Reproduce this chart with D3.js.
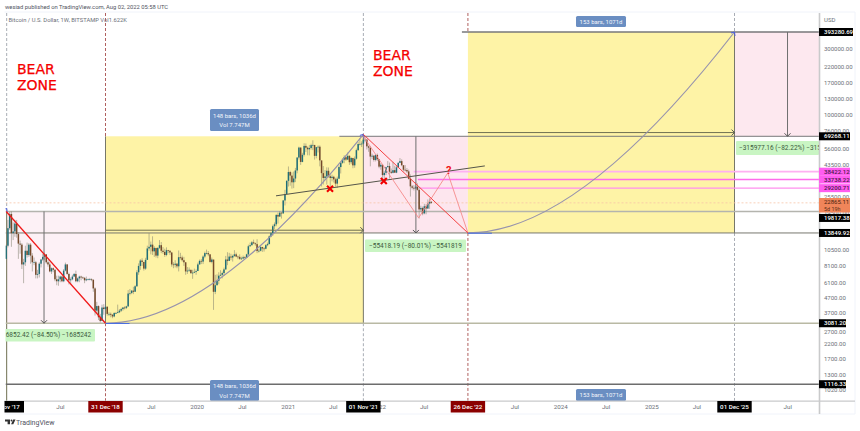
<!DOCTYPE html>
<html>
<head>
<meta charset="utf-8">
<script src="https://cdn.jsdelivr.net/npm/d3@7"></script>
<style>
  html, body { margin: 0; padding: 0; background: #fff; }
  svg { display: block; }
  text { font-family: Roboto, "Noto Sans", sans-serif; }
</style>
</head>
<body>
<svg id="chart" width="860" height="431"></svg>
<script>
// Weekly BTC/USD candles, the first one opening the week of 27 Nov 2017.
const firstWeek = "2017-11-27";
const weekCloses = [
  11200,15000,19000,13800,14200,16200,13600,11600,11400,8200,
  8500,10300,9600,11400,9500,8500,8500,6900,7000,8300,
  8900,9300,9700,8500,8200,7300,7700,7500,6400,6200,
  6400,6700,6200,7400,8200,7000,6300,6400,6700,7000,
  6200,6500,6700,6600,6550,6300,6400,6400,6400,6350,
  5500,3800,4100,3400,3200,4000,3900,4050,3600,3600,
  3550,3450,3650,3650,3700,3800,3900,4000,3980,4080,
  5050,5100,5300,5200,5700,7200,8000,8750,8550,7650,
  8850,10700,11000,11400,10200,10800,9500,10800,11300,10300,
  10100,9600,10400,10300,10000,8200,8150,8300,7950,9250,
  9200,8800,8500,7300,7400,7500,7100,7150,7250,7350,
  8200,8700,8600,9350,9900,9900,9700,8550,8900,5200,
  5800,6250,6800,6900,7100,7550,8900,8700,9350,9200,
  9450,9700,9350,9300,9000,9050,9250,9180,9700,11100,
  11300,11850,11650,11500,10250,10300,10950,10700,10650,11300,
  11500,13100,13800,15500,16000,18700,18200,19400,19200,23800,
  26500,33000,38200,36000,32200,34300,39200,48600,57400,45200,
  50900,59000,57300,55800,57000,59800,60000,50000,57800,58200,
  46400,37500,34600,35500,39000,35600,34600,35300,33800,31500,
  34200,41500,44500,46900,48900,47000,50000,45000,48300,42700,
  47700,55000,60900,61000,61300,65500,65500,58600,57300,49400,
  50100,46700,50800,47300,41800,43100,36300,37700,41400,42200,
  38400,37700,39400,37800,41300,44500,45800,42800,39700,39500,
  38600,34100,30100,29400,29000,29900,28400,20500,21000,19200,
  21600,20800,22600,23300,22865.11
];
const weekHighs = [
  11400,17200,19666,19817,16500,17200,17200,14000,12200,11700,
  9000,11200,11800,11700,11700,9900,9200,8700,7500,8500,
  9000,9800,9950,9700,8800,8500,7800,7800,7600,6800,
  6800,6800,6800,7600,8450,8250,7150,6600,6900,7100,
  7400,6600,6800,6800,6700,6650,6700,6500,6550,6500,
  6400,5600,4400,4150,3600,4200,4230,4100,4100,3700,
  3680,3570,3700,3720,4200,3900,3980,4030,4090,4120,
  5350,5450,5350,5650,5800,7450,8350,8950,9090,8100,
  9150,11200,13800,12000,13100,11100,10700,10900,12300,11900,
  10950,10650,10900,10450,10350,10100,8500,8800,8400,10350,
  9950,9500,9300,8500,7850,7800,7500,7500,7650,7550,
  8450,8900,8980,9550,10150,10500,10250,9720,9200,8200,
  6900,6950,7200,7450,7280,7780,9450,10050,9950,9800,
  9650,10400,9980,9500,9700,9330,9500,9400,9800,11400,
  11800,12100,12400,11800,12480,10600,11200,11000,10950,11500,
  11800,13300,14100,15900,16500,18900,19450,19900,19600,24000,
  28400,33300,41900,39000,38000,38500,40900,49000,58300,57500,
  52600,61700,61500,58400,60000,61200,64800,57500,58000,59500,
  59500,45700,42200,39500,41300,41200,36700,36600,35900,34700,
  35400,42600,45300,48100,50500,49600,52900,50500,48800,47300,
  49500,56500,62900,67000,63700,67500,69000,66300,59500,59000,
  51900,50800,51400,52000,47500,44400,43500,38900,41700,45800,
  44700,40500,45300,42400,42300,45000,48200,47200,42400,42900,
  40800,39800,36700,30800,30700,32400,31700,29600,21800,21500,
  22500,22400,24200,24700,23400
];
const weekLows = [
  9000,10900,14600,11000,12300,13000,12800,9000,9800,7600,
  6000,8000,9200,9300,8300,7300,8100,6500,6500,6600,
  7800,8700,8800,8300,7900,7200,7000,7200,6200,5800,
  5750,6100,6100,6100,7300,6900,5880,5900,6300,6700,
  6100,6100,6100,6300,6450,6000,6200,6300,6300,6200,
  5200,3500,3650,3250,3120,3200,3550,3650,3500,3470,
  3400,3350,3400,3600,3650,3650,3720,3800,3880,3900,
  4050,4900,5000,5000,5250,5650,6900,7500,8000,7400,
  7500,8900,10300,9700,9600,9300,9200,9100,10600,9900,
  9800,9300,9400,9900,9600,7900,7700,7800,7700,7300,
  8900,8600,8000,6900,7000,7250,7000,6450,7100,6900,
  7650,8200,8250,8250,9100,9700,9400,8450,8350,3850,
  5000,5800,5900,6750,6500,6770,7500,8100,8800,8800,
  8600,9300,9250,8950,8850,8850,9000,9050,9100,9600,
  11000,11200,11500,11200,9900,10000,10200,10100,10150,10550,
  11100,11500,12900,13200,14800,15500,16200,18100,17600,19000,
  21900,27000,30000,30400,29000,29200,32300,37400,47000,43000,
  44900,49500,53300,50500,50400,55500,55000,47000,48000,52900,
  42000,30000,31000,33400,31000,34800,28800,32700,32100,30000,
  29300,34000,37300,43800,44200,46000,46600,43000,43500,40700,
  41000,47000,54300,59500,58000,60000,62800,55600,53500,42000,
  47300,45500,45600,45900,40700,39700,34000,32900,36300,41400,
  34300,37000,37400,37700,37500,40800,44700,42100,38600,38600,
  37600,33700,25400,28600,28100,29200,28000,17600,19800,18600,
  18900,18900,20700,20700,22500
];

// Price axis
const priceTicks = [300000,220000,170000,130000,100000,76000,56000,43500,33500,25500,19500,14500,10500,8100,6100,4700,3700,2700,2200,1700,1300,1020];
const levelPrices = [393280.69,69268.11,19817.38,13849.92,3081.20,1116.33];
const fibPrices = [38422.12,33738.22,29200.71];
const lastPrice = 22865.11;
const lastCountdown = "5d 19h";

// Time axis
const timeTicks = [["2018-07-01","Jul"],["2019-07-01","Jul"],["2020-01-01","2020"],["2020-07-01","Jul"],["2021-01-01","2021"],["2021-07-01","Jul"],["2022-01-01","2022"],["2022-07-01","Jul"],["2023-07-01","Jul"],["2024-01-01","2024"],["2024-07-01","Jul"],["2025-01-01","2025"],["2025-07-01","Jul"],["2026-07-01","Jul"]];
const pivotDates = ["2017-11-27","2018-12-31","2021-11-01","2022-12-26","2025-12-01"];
const pivotLabels = ["Nov '17","31 Dec '18","01 Nov '21","26 Dec '22","01 Dec '25"];

// Hand-drawn studies, in date and price terms
const bigDrop = [["2017-11-27",19817.38],["2018-12-31",3081.20]];
const secondDrop = [["2021-11-01",71500],["2022-12-26",13849.92]];
const pathGuess = [["2021-11-01",69268.11],["2022-06-11",17800],["2022-10-06",37620],["2022-12-26",13849.92]];
const trendLine = [["2020-11-15",25700],["2023-03-04",42300]];
const crossMarks = [["2021-06-20",28900],["2022-01-22",32900]];
const questionMark = ["2022-10-10",39200];
const firstArc = [["2018-12-31",3081.20],["2020-03-03",3081.20],["2021-11-01",71500]];
const secondArc = [["2022-12-26",13849.92],["2024-03-14",13849.92],["2025-12-01",393280.69]];
const dropArrowDates = ["2018-04-28","2022-05-31","2026-07-02"];
const spanArrowPrices = [14500,73700];

const dropLabels = ["−16852.42 (−84.50%) −1685242","−55418.19 (−80.01%) −5541819","−315977.16 (−82.22%) −31597716"];
const spanLabels = [["148 bars, 1036d","Vol 7.747M"],["153 bars, 1071d"]];

const plotLeft = 5.5, plotRight = 819, plotTop = 13, axisY = 401, frameBottom = 414, frameRight = 855;
const scaleFont = 6, scaleTextX = 824;
const parse = d3.utcParse("%Y-%m-%d");

const x = d3.scaleUtc().domain([parse(pivotDates[1]), parse(pivotDates[4])]).range([105.5, 734.5]);
const y = d3.scaleLog().domain([levelPrices[0], levelPrices[5]]).range([32, 384.2]);
const X = s => x(parse(s));
const [p0, p1, p2, p3, p4] = pivotDates.map(X);
const [lvTop, lvHigh, lvMid, lvLow, lvBase, lvFloor] = levelPrices.map(y);

const svg = d3.select("#chart");
const defs = svg.append("defs");
defs.append("clipPath").attr("id", "plot").append("rect")
  .attr("x", plotLeft).attr("y", plotTop).attr("width", plotRight - plotLeft).attr("height", axisY - plotTop);

// Outer frame
svg.append("path").attr("d", `M${plotLeft-1},${plotTop-1}H${frameRight}V${frameBottom}H${plotLeft-1}`)
  .attr("fill", "none").attr("stroke", "#f0f3fa").attr("stroke-width", 1);

const plot = svg.append("g").attr("clip-path", "url(#plot)");

// Shaded time zones
const zones = [
  [p0, p1, lvMid, lvBase, "#fdf1f6"],
  [p1, p2, lvHigh, lvBase, "#fef3a6"],
  [p2, p3, lvHigh, lvLow, "#fde6ee"],
  [p3, p4, lvTop, lvLow, "#fef3a6"],
  [p4, plotRight + 1, lvTop, lvHigh, "#fde8ef"]
];
plot.selectAll("rect.zone").data(zones).join("rect").attr("class", "zone")
  .attr("x", d => d[0]).attr("width", d => d[1] - d[0])
  .attr("y", d => d[2]).attr("height", d => d[3] - d[2]).attr("fill", d => d[4]);

// Vertical date markers: dashed through the open space, solid along the zones
const hline = (x1, x2, yy, col, w, dash) => plot.append("line")
  .attr("x1", x1).attr("x2", x2).attr("y1", yy).attr("y2", yy)
  .attr("stroke", col).attr("stroke-width", w).attr("stroke-dasharray", dash || null);
const vline = (xx, y1, y2, col, w, dash) => plot.append("line")
  .attr("x1", xx).attr("x2", xx).attr("y1", y1).attr("y2", y2)
  .attr("stroke", col).attr("stroke-width", w).attr("stroke-dasharray", dash || null);

const greyDash = "#a9adb5", redDash = "#b0605f", solid = "#77776a";
vline(p0 + 0.5, plotTop, lvMid, greyDash, 1, "3 2");
vline(p0 + 0.5, lvMid, axisY, "#6f7050", 1);
vline(p1, plotTop, lvHigh, redDash, 1, "3 2");
vline(p1, lvHigh, lvBase, solid, 1);
vline(p1, lvBase, axisY, redDash, 1, "3 2");
vline(p2, plotTop, lvHigh, greyDash, 1, "3 2");
vline(p2, lvHigh, lvBase, solid, 1);
vline(p2, lvBase, axisY, greyDash, 1, "3 2");
vline(p3, plotTop, lvTop, redDash, 1, "3 2");
vline(p3, lvLow, axisY, redDash, 1, "3 2");
vline(p4, plotTop, lvTop, greyDash, 1, "3 2");
vline(p4, lvTop, lvLow, solid, 1);
vline(p4, lvLow, axisY, greyDash, 1, "3 2");

// Horizontal price levels
hline(p2 - 24, plotRight, lvHigh, "#77777a", 1);
hline(p3 - 6, plotRight, lvTop, "#77777a", 1.6);
hline(plotLeft, plotRight, lvMid, "#b4b4ae", 1.4);
hline(plotLeft, plotRight, lvLow, "#77776f", 1);
hline(plotLeft, plotRight, lvBase, "#b9b9a4", 1.4);
hline(plotLeft, plotRight, lvFloor, "#6d6d6d", 1.4);
hline(plotLeft, plotRight, y(lastPrice), "#f7c4a8", 0.8, "2 2");

// Support and resistance levels picked from the retracement
const fibColors = ["#ffb0f2", "#ff6aec", "#ff90ee"];
const fibStarts = ["2022-05-22", "2022-06-08", "2022-06-16"];
fibPrices.forEach((p, i) => hline(X(fibStarts[i]), plotRight, y(p), fibColors[i], i === 0 ? 1.8 : 1.3));

// Candles
const candles = weekCloses.map((c, i) => ({
  date: d3.utcWeek.offset(parse(firstWeek), i),
  open: i ? weekCloses[i - 1] : weekLows[0],
  close: c, high: weekHighs[i], low: weekLows[i]
}));
const candleG = plot.append("g");
candleG.selectAll("line").data(candles).join("line")
  .attr("x1", d => x(d.date)).attr("x2", d => x(d.date))
  .attr("y1", d => y(d.high)).attr("y2", d => y(d.low))
  .attr("stroke", "#7d7d6c").attr("stroke-width", 0.7).attr("stroke-opacity", 0.75);
candleG.selectAll("rect").data(candles).join("rect")
  .attr("x", d => x(d.date) - 0.75).attr("width", 1.5)
  .attr("y", d => y(Math.max(d.open, d.close)))
  .attr("height", d => Math.max(0.7, Math.abs(y(d.open) - y(d.close))))
  .attr("fill", d => d.close >= d.open ? "#1f6f78" : "#74492a");

const linePts = d3.line().x(d => X(d[0])).y(d => y(d[1]));

// Span and drop arrows
const arrowHead = (g, xx, yy, dir, col) => {
  const d = dir === "down" ? `M${xx-3},${yy-3}L${xx},${yy}L${xx+3},${yy-3}`
    : dir === "right" ? `M${xx-3},${yy-3}L${xx},${yy}L${xx-3},${yy+3}`
    : `M${xx-3.5},${yy+1}L${xx},${yy}L${xx+0.5},${yy+4}`;
  g.append("path").attr("d", d).attr("fill", "none").attr("stroke", col).attr("stroke-width", 1);
};
const dropSpans = [[lvMid, lvBase], [lvHigh, lvLow], [lvTop, lvHigh]];
dropArrowDates.forEach((d, i) => {
  const xx = X(d);
  vline(xx, dropSpans[i][0], dropSpans[i][1], "#6f6f6f", 1);
  arrowHead(plot, xx, dropSpans[i][1], "down", "#555");
});
const spanRuns = [[p1, p2], [p3, p4]];
spanArrowPrices.forEach((p, i) => {
  hline(spanRuns[i][0], spanRuns[i][1], y(p), "#6f6f50", 1);
  arrowHead(plot, spanRuns[i][1], y(p), "right", "#555");
});

// Projected arcs, blue where they leave the base
const arcPath = a => {
  const [s, c, e] = a;
  return `M${X(s[0])},${y(s[1])}Q${X(c[0])},${y(c[1])} ${X(e[0])},${y(e[1])}`;
};
[firstArc, secondArc].forEach(a => {
  plot.append("path").attr("d", arcPath(a)).attr("fill", "none")
    .attr("stroke", "#9793ad").attr("stroke-width", 1.2);
  const xs = X(a[0][0]), ys = y(a[0][1]);
  plot.append("line").attr("x1", xs).attr("x2", xs + 24).attr("y1", ys + 0.3).attr("y2", ys + 0.3)
    .attr("stroke", "#4a6fe0").attr("stroke-width", 1.1);
  arrowHead(plot, X(a[2][0]), y(a[2][1]), "up", "#4a5fe0");
});
arrowHead(plot, p0 + 0.5, y(bigDrop[0][1]) - 3, "up", "#4a5fe0");

// Trend line and the red projections
plot.append("path").attr("d", linePts(trendLine)).attr("fill", "none").attr("stroke", "#55554a").attr("stroke-width", 1);
plot.append("path").attr("d", linePts(pathGuess)).attr("fill", "none").attr("stroke", "#f58a8a").attr("stroke-width", 0.9);
plot.append("path").attr("d", linePts(bigDrop)).attr("fill", "none").attr("stroke", "#f01818").attr("stroke-width", 1.3);
plot.append("path").attr("d", linePts(secondDrop)).attr("fill", "none").attr("stroke", "#f54040").attr("stroke-width", 1);

// Failed-support crosses
crossMarks.forEach(([d, p]) => {
  const cx = X(d), cy = y(p), r = 3;
  plot.append("path").attr("d", `M${cx-r},${cy-r}L${cx+r},${cy+r}M${cx+r},${cy-r}L${cx-r},${cy+r}`)
    .attr("stroke", "#f00000").attr("stroke-width", 2.1).attr("fill", "none");
});
plot.append("text").attr("x", X(questionMark[0])).attr("y", y(questionMark[1]) + 4)
  .attr("text-anchor", "middle").attr("font-size", 11).attr("font-weight", 700)
  .attr("fill", "#f01818").text("?");

// Zone headings
const heading = (hx, hy1, hy2) => {
  [["BEAR", hy1], ["ZONE", hy2]].forEach(([t, yy]) => {
    svg.append("text").attr("x", hx).attr("y", yy).text(t)
      .style("font-family", "'DejaVu Sans'").attr("font-size", 14).attr("fill", "#f50000")
      .attr("stroke", "#f50000").attr("stroke-width", 0.25);
  });
};
heading(17, 74, 89.5);
heading(373, 60, 76);

// Drop labels
const dropBoxes = [[-5.5, 95, 329, 341.5], [365, 466, 239.5, 252], [736, 819, 141, 155]];
dropBoxes.forEach((b, i) => {
  const g = plot.append("g");
  g.append("rect").attr("x", b[0]).attr("width", b[1] - b[0]).attr("y", b[2]).attr("height", b[3] - b[2])
    .attr("rx", 1).attr("fill", "#c9f5c3");
  g.append("text").attr("x", i === 2 ? b[0] + 3 : (b[0] + b[1]) / 2).attr("y", (b[2] + b[3]) / 2 + 2.2)
    .attr("text-anchor", i === 2 ? "start" : "middle").attr("font-size", 6.5).attr("fill", "#3c5a3c").text(dropLabels[i]);
});

// Bar-count badges
const badges = [
  [210, 259, 109, 131, spanLabels[0]],
  [210, 259, 380, 401, spanLabels[0]],
  [576, 626, 16, 27, spanLabels[1]],
  [576, 626, 389, 401, spanLabels[1]]
];
badges.forEach(b => {
  svg.append("rect").attr("x", b[0]).attr("width", b[1] - b[0]).attr("y", b[2]).attr("height", b[3] - b[2])
    .attr("rx", 1.5).attr("fill", "#6a8ec2");
  const cx = (b[0] + b[1]) / 2, cy = (b[2] + b[3]) / 2;
  b[4].forEach((t, i) => {
    svg.append("text").attr("x", cx).attr("y", cy + 2.2 + (b[4].length > 1 ? (i ? 5 : -4.6) : 0))
      .attr("text-anchor", "middle").attr("font-size", 6).attr("fill", "#f2f5fb").text(t);
  });
});

// Price scale
const priceAxis = d3.axisRight(y).tickValues(priceTicks).tickSize(0).tickPadding(0)
  .tickFormat(d => d3.format(".2f")(d));
const priceG = svg.append("g").attr("transform", `translate(${scaleTextX},0)`).call(priceAxis);
priceG.select(".domain").remove();
priceG.selectAll("text").attr("font-size", scaleFont).attr("fill", "#6b6f78").attr("dy", "0.32em")
  .style("font-family", "Roboto");
svg.append("text").attr("x", scaleTextX).attr("y", 21.5).attr("font-size", scaleFont).attr("fill", "#6b6f78").text("USD");

// Time scale
const timeAxis = d3.axisBottom(x).tickValues(timeTicks.map(d => parse(d[0]))).tickSize(0).tickPadding(0)
  .tickFormat((d, i) => timeTicks[i][1]);
const timeG = svg.append("g").attr("transform", `translate(0,${axisY})`).call(timeAxis);
timeG.select(".domain").remove();
timeG.selectAll("text").attr("y", 8.4).attr("dy", 0).attr("font-size", 6.2).attr("fill", "#6b6f78")
  .style("font-family", "Roboto");

// Scale borders
svg.append("line").attr("x1", plotRight + 0.5).attr("x2", plotRight + 0.5).attr("y1", plotTop).attr("y2", frameBottom).attr("stroke", "#c9cacb").attr("stroke-width", 1.6);
svg.append("line").attr("x1", plotLeft - 1).attr("x2", frameRight).attr("y1", axisY + 0.2).attr("y2", axisY + 0.2).attr("stroke", "#c9cacb").attr("stroke-width", 1.2);

// Price tags on the scale; a few are nudged so they do not overlap
const tag = (yc, h, w, fill, col, txt) => {
  svg.append("rect").attr("x", plotRight).attr("y", yc - h / 2).attr("width", w).attr("height", h).attr("fill", fill);
  svg.append("text").attr("x", scaleTextX).attr("y", yc + 2.2).attr("font-size", scaleFont).attr("fill", col)
    .attr("font-weight", 500).text(txt);
};
const fmt = d3.format(".2f");
const priceTag = (p, dy) => tag(y(p) + (dy || 0), 8, p > 10000 ? (p > 100000 ? 34 : 31) : 27, "#000", "#fff", fmt(p));
fibPrices.forEach(p => tag(y(p), 8, 31, "#ff5cf0", "#4a1a4a", fmt(p)));
svg.append("rect").attr("x", plotRight).attr("y", 198).attr("width", 31).attr("height", 14.5).attr("fill", "#f0855a");
svg.append("text").attr("x", scaleTextX).attr("y", 204.2).attr("font-size", scaleFont).attr("fill", "#4a2410").text(fmt(lastPrice));
svg.append("text").attr("x", scaleTextX).attr("y", 210.5).attr("font-size", 5.4).attr("fill", "#5a2f18").text(lastCountdown);
priceTag(levelPrices[0]);
priceTag(levelPrices[1]);
priceTag(levelPrices[2], 6.5);
priceTag(levelPrices[3]);
priceTag(levelPrices[4]);
priceTag(levelPrices[5]);

// Date tags on the time scale
const tagFill = ["#000", "#8b0000", "#000", "#8b0000", "#000"];
defs.append("clipPath").attr("id", "timeClip").append("rect")
  .attr("x", plotLeft - 1).attr("y", axisY).attr("width", frameRight - plotLeft).attr("height", 14);
const dateTags = svg.append("g").attr("clip-path", "url(#timeClip)");
pivotDates.forEach((d, i) => {
  const cx = X(d);
  const mid = i === 0 ? 9.5 : cx;
  dateTags.append("rect").attr("x", i === 0 ? -8 : cx - 17.2).attr("y", axisY).attr("width", i === 0 ? 32 : 34.4).attr("height", 11.5).attr("fill", tagFill[i]);
  dateTags.append("text").attr("x", mid).attr("y", axisY + 8.2).attr("text-anchor", "middle")
    .attr("font-size", 6.2).attr("fill", "#fff").attr("font-weight", 500).text(pivotLabels[i]);
});

// Header, legend and footer
svg.append("text").attr("x", 5).attr("y", 9).attr("font-size", 5.8).attr("fill", "#50535e")
  .text("wesiad published on TradingView.com, Aug 02, 2022 05:58 UTC");
svg.append("text").attr("x", 8.5).attr("y", 22.2).attr("font-size", 5.8).attr("fill", "#6b6f78")
  .text("Bitcoin / U.S. Dollar, 1W, BITSTAMP  Vol1.622K");
svg.append("path").attr("fill", "#333")
  .attr("d", "M5,419.5h5v4.8h-2.4v-2.8h-2.6zM13.2,419.5h2.3l-2.2,4.8h-2.2z");
svg.append("circle").attr("cx", 11.5).attr("cy", 420.5).attr("r", 0.9).attr("fill", "#333");
svg.append("text").attr("x", 16).attr("y", 425).attr("font-size", 7).attr("fill", "#50535e").text("TradingView");
</script>
</body>
</html>
